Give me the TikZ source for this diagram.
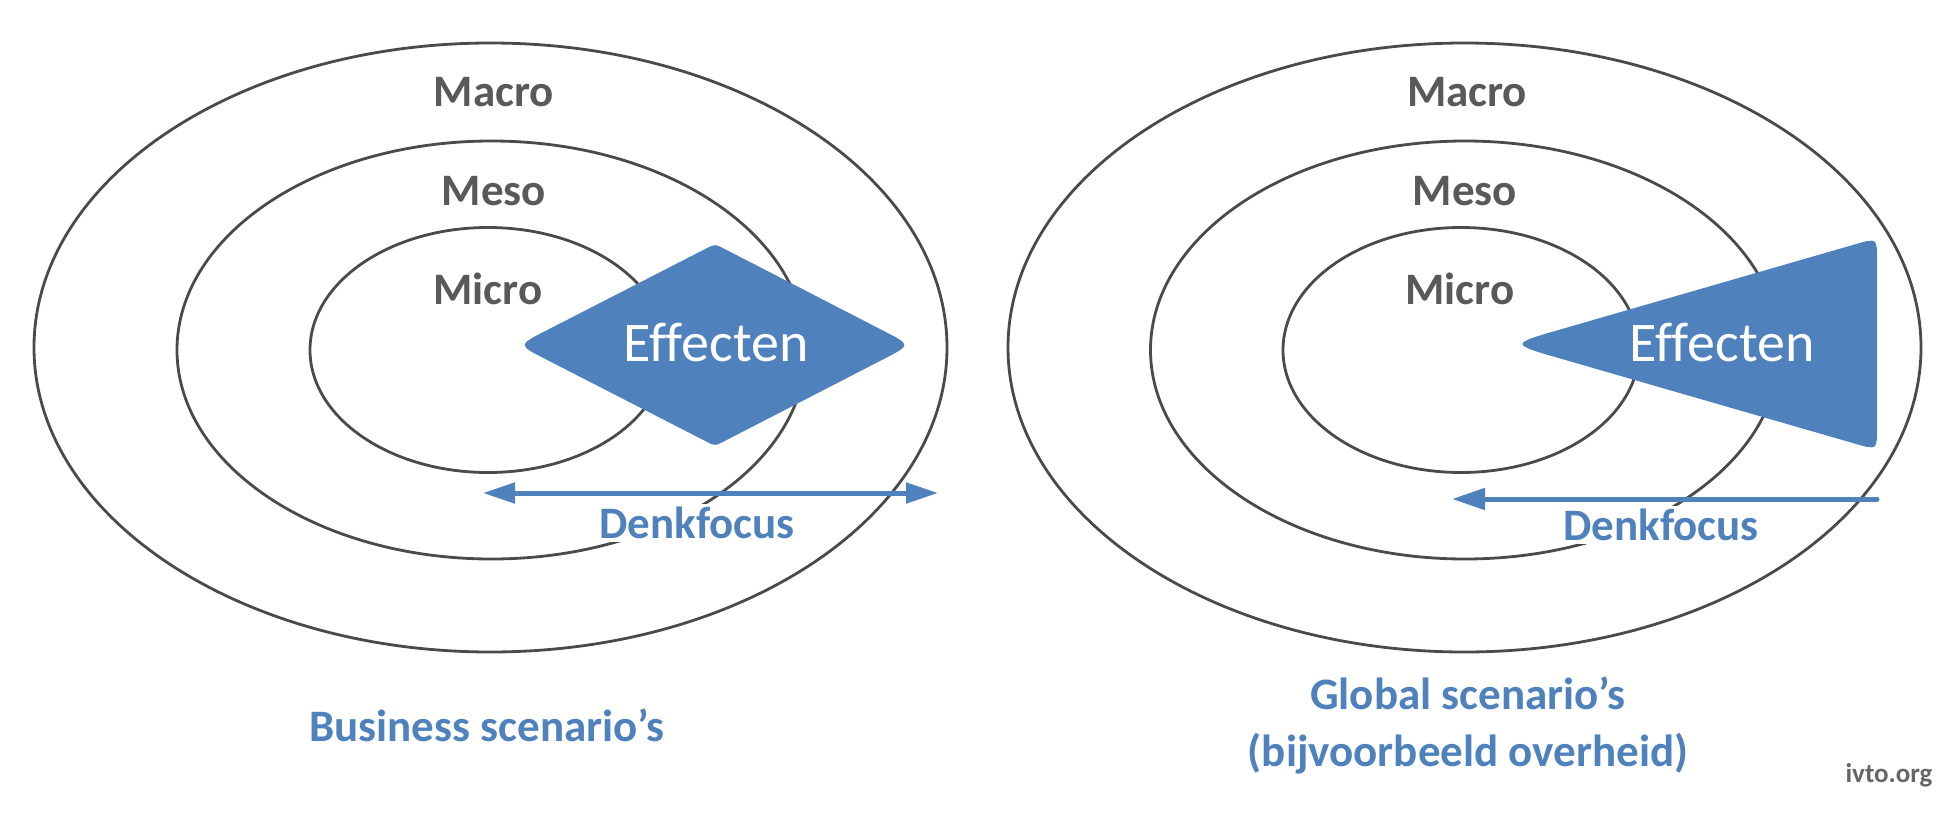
\documentclass[tikz,border=0pt]{standalone}
\usepackage{fontspec}
\setmainfont{Carlito}[Ligatures=NoCommon]
\usetikzlibrary{arrows.meta,calc}
\definecolor{ablue}{HTML}{4F81BD}
\definecolor{tgray}{HTML}{595959}
\definecolor{lgray}{HTML}{4A4A4A}
\definecolor{wgray}{HTML}{666666}
\tikzset{
  ring/.style={draw=lgray, line width=2.8pt},
  level/.style={text=tgray, font=\bfseries\fontsize{45}{54}\selectfont, inner sep=0pt},
  effect/.style={text=white, font=\fontsize{56}{66}\selectfont, inner sep=0pt},
  focus/.style={text=ablue, font=\bfseries\fontsize{45}{54}\selectfont, fill=white, inner sep=3pt},
  caption/.style={text=ablue, font=\bfseries\fontsize{45}{57}\selectfont, align=center, inner sep=0pt},
  focusarrow/.style={draw=ablue, line width=5pt},
  bluepoly/.style={fill=ablue}
}
\begin{document}
\begin{tikzpicture}[x=1pt,y=-1pt]
\useasboundingbox[fill=white] (0,0) rectangle (1960,814);
% left rings
\draw[ring] (490.5,347.5) ellipse [x radius=456.5pt, y radius=304.5pt];
\draw[ring] (491.5,350) ellipse [x radius=314.5pt, y radius=209pt];
\draw[ring] (488,350) ellipse [x radius=178pt, y radius=122.5pt];
% right rings
\draw[ring] (1464.5,347.5) ellipse [x radius=456.5pt, y radius=304.5pt];
\draw[ring] (1465,350) ellipse [x radius=314.5pt, y radius=209pt];
\draw[ring] (1461,350) ellipse [x radius=178pt, y radius=122.5pt];
% diamond corners
\coordinate (dL) at (518,345);
\coordinate (dT) at (715,244);
\coordinate (dR) at (911,345);
\coordinate (dB) at (715,446);
\fill[bluepoly]
  ($(dL)!30pt!(dT)$) -- ($(dT)!10pt!(dL)$) .. controls (dT) .. ($(dT)!10pt!(dR)$)
  -- ($(dR)!30pt!(dT)$) .. controls (dR) .. ($(dR)!30pt!(dB)$)
  -- ($(dB)!10pt!(dR)$) .. controls (dB) .. ($(dB)!10pt!(dL)$)
  -- ($(dL)!30pt!(dB)$) .. controls (dL) .. ($(dL)!30pt!(dT)$) -- cycle;
% triangle corners
\coordinate (tL) at (1510,344);
\coordinate (tT) at (1877,238);
\coordinate (tB) at (1877,450);
\fill[bluepoly]
  ($(tL)!52pt!(tT)$) -- ($(tT)!22pt!(tL)$) .. controls (tT) .. ($(tT)!22pt!(tB)$)
  -- ($(tB)!22pt!(tT)$) .. controls (tB) .. ($(tB)!22pt!(tL)$)
  -- ($(tL)!52pt!(tB)$) .. controls (tL) .. ($(tL)!52pt!(tT)$) -- cycle;
% labels
\node[level] (macL) at (494,92) {Macro};
\node[level] (mesL) at (494,191) {Meso};
\node[level] (micL) at (488,289) {Micro};
\node[level] (macR) at (1467,92) {Macro};
\node[level] (mesR) at (1465,191) {Meso};
\node[level] (micR) at (1460,289) {Micro};
\node[effect] (effL) at (716,343) {Effecten};
\node[effect] (effR) at (1722,343) {Effecten};
% arrows
\coordinate (aL1) at (483,493);
\coordinate (aL2) at (938,493);
\draw[focusarrow, {Triangle[length=32pt,width=20pt]}-{Triangle[length=32pt,width=20pt]}] (aL1) -- (aL2);
\coordinate (aR1) at (1452,499);
\coordinate (aR2) at (1877,499);
\draw[focusarrow, line cap=round, {Triangle[length=33pt,width=21pt]}-] (aR1) -- (aR2);
\node[focus] (dfL) at (697,523) {Denkfocus};
\node[focus] (dfR) at (1661,525) {Denkfocus};
% captions
\node[caption] (capL) at (487,725) {Business scenario’s};
\node[caption] (capR) at (1468,725) {Global scenario’s\\(bijvoorbeeld overheid)};
\node[text=wgray, font=\bfseries\fontsize{27}{32}\selectfont, inner sep=0pt] (site) at (1889,775) {ivto.org};
\end{tikzpicture}
\end{document}
